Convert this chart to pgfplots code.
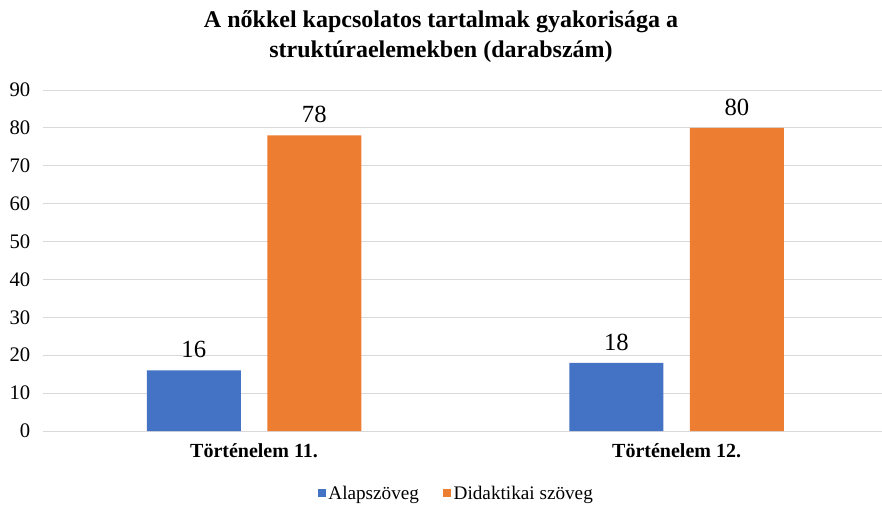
\documentclass[border=0pt]{standalone}
\usepackage{fontspec}
\setmainfont{Liberation Serif}
\usepackage{pgfplots}
\pgfplotsset{compat=1.18}
\definecolor{cblue}{HTML}{4472C4}
\definecolor{corange}{HTML}{ED7D31}
\definecolor{cgrid}{HTML}{D9D9D9}
\begin{document}
\begin{tikzpicture}
\useasboundingbox (0,0) rectangle (661.5pt,378pt);
\node[align=center, font=\fontsize{18}{23}\selectfont\bfseries] at (330.75pt,350.5pt) {A nőkkel kapcsolatos tartalmak gyakorisága a\\struktúraelemekben (darabszám)};
\begin{axis}[
  at={(32.25pt,54.75pt)}, anchor=south west,
  scale only axis,
  width=629.25pt, height=255.75pt,
  xmin=-0.4994, xmax=1.486,
  ymin=0, ymax=90,
  ytick={0,10,...,90},
  xtick={0,1},
  xticklabels={Történelem 11., Történelem 12.},
  ymajorgrids, grid style={cgrid, line width=0.75pt},
  axis x line*=bottom, axis y line*=left,
  x axis line style={cgrid, line width=0.75pt, -},
  y axis line style={draw=none},
  major tick length=0pt,
  /pgf/number format/assume math mode=true,
  yticklabel style={font=\fontsize{15.5}{18}\selectfont, xshift=-6pt},
  xticklabel style={font=\fontsize{15}{18}\selectfont\bfseries, yshift=-6pt},
  ybar, bar width=0.2225,
  nodes near coords,
  nodes near coords style={font=\fontsize{18.5}{22}\selectfont, anchor=south, inner sep=0pt, yshift=9pt},
  legend style={at={(0.493,-0.183)}, anchor=center, draw=none, fill=none,
    legend columns=2, font=\fontsize{14.4}{17}\selectfont,
    /tikz/every even column/.append style={column sep=16pt}},
  legend image code/.code={\fill[#1] (0pt,-2.7pt) rectangle (6pt,3.3pt);},
]
\addplot[fill=cblue, draw=none, bar shift=-0.1426] coordinates {(0,16) (1,18)};
\addplot[fill=corange, draw=none, bar shift=0.1426] coordinates {(0,78) (1,80)};
\legend{Alapszöveg, Didaktikai szöveg}
\end{axis}
\end{tikzpicture}
\end{document}
